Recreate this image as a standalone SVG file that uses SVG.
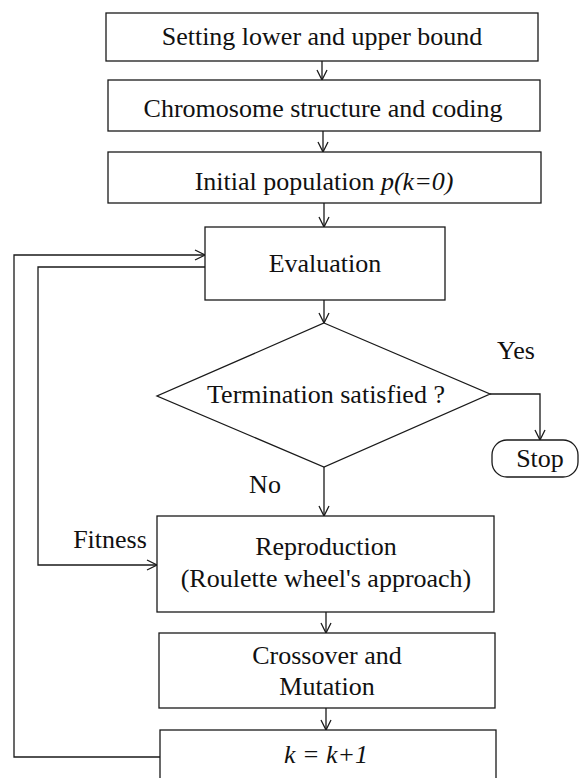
<svg xmlns="http://www.w3.org/2000/svg" width="579" height="778" viewBox="0 0 579 778">
<defs>
<style>
.box{fill:#fff;stroke:#1a1a1a;stroke-width:1.3}
.ln{fill:none;stroke:#1a1a1a;stroke-width:1.3}
text{font-family:"Liberation Serif","Times New Roman",serif;font-size:26px;fill:#111;text-anchor:middle}
.it{font-style:italic}
</style>
<marker id="ah" viewBox="0 0 12 12" refX="11" refY="6" markerWidth="12" markerHeight="12" markerUnits="userSpaceOnUse" orient="auto">
<polyline points="1,1 11,6 1,11" fill="none" stroke="#1a1a1a" stroke-width="1.3"/>
</marker>
</defs>
<rect width="579" height="778" fill="#fff"/>
<g id="connectors">
<line class="ln" x1="322" y1="61" x2="322" y2="80" marker-end="url(#ah)"/>
<line class="ln" x1="323" y1="131" x2="323" y2="152" marker-end="url(#ah)"/>
<line class="ln" x1="324" y1="203" x2="324" y2="227" marker-end="url(#ah)"/>
<line class="ln" x1="324" y1="300" x2="324" y2="323" marker-end="url(#ah)"/>
<polyline class="ln" points="490,394 540,394 540,440" marker-end="url(#ah)"/>
<line class="ln" x1="324" y1="467" x2="324" y2="516" marker-end="url(#ah)"/>
<line class="ln" x1="326" y1="612" x2="326" y2="633" marker-end="url(#ah)"/>
<line class="ln" x1="326" y1="708" x2="326" y2="730" marker-end="url(#ah)"/>
<polyline class="ln" points="160,757 14,757 14,255 205,255" marker-end="url(#ah)"/>
<polyline class="ln" points="205,267 38,267 38,565 157,565" marker-end="url(#ah)"/>
<text x="516" y="359">Yes</text>
<text x="265" y="493">No</text>
<text x="110" y="548">Fitness</text>
</g>
<g id="bounds"><rect class="box" x="106" y="13" width="432" height="48"/><text x="322" y="45">Setting lower and upper bound</text></g>
<g id="chromosome"><rect class="box" x="108" y="80" width="432" height="51"/><text x="323" y="117">Chromosome structure and coding</text></g>
<g id="initial"><rect class="box" x="108" y="152" width="433" height="51"/><text x="324" y="190">Initial population <tspan class="it">p(k=0)</tspan></text></g>
<g id="evaluation"><rect class="box" x="205" y="227" width="240" height="73"/><text x="325" y="272">Evaluation</text></g>
<g id="termination"><polygon class="box" points="324,323 490,394 324,467 157,396"/><text x="326" y="403">Termination satisfied ?</text></g>
<g id="stop"><rect class="box" x="492" y="440" width="86" height="37" rx="15"/><text x="540" y="467">Stop</text></g>
<g id="reproduction"><rect class="box" x="157" y="516" width="337" height="96"/><text x="326" y="555">Reproduction</text><text x="326" y="587">(Roulette wheel's approach)</text></g>
<g id="crossover"><rect class="box" x="159" y="633" width="336" height="75"/><text x="327" y="664">Crossover and</text><text x="327" y="695">Mutation</text></g>
<g id="increment"><rect class="box" x="160" y="730" width="336" height="60"/><text x="326" y="763" class="it">k = k+1</text></g>
</svg>
